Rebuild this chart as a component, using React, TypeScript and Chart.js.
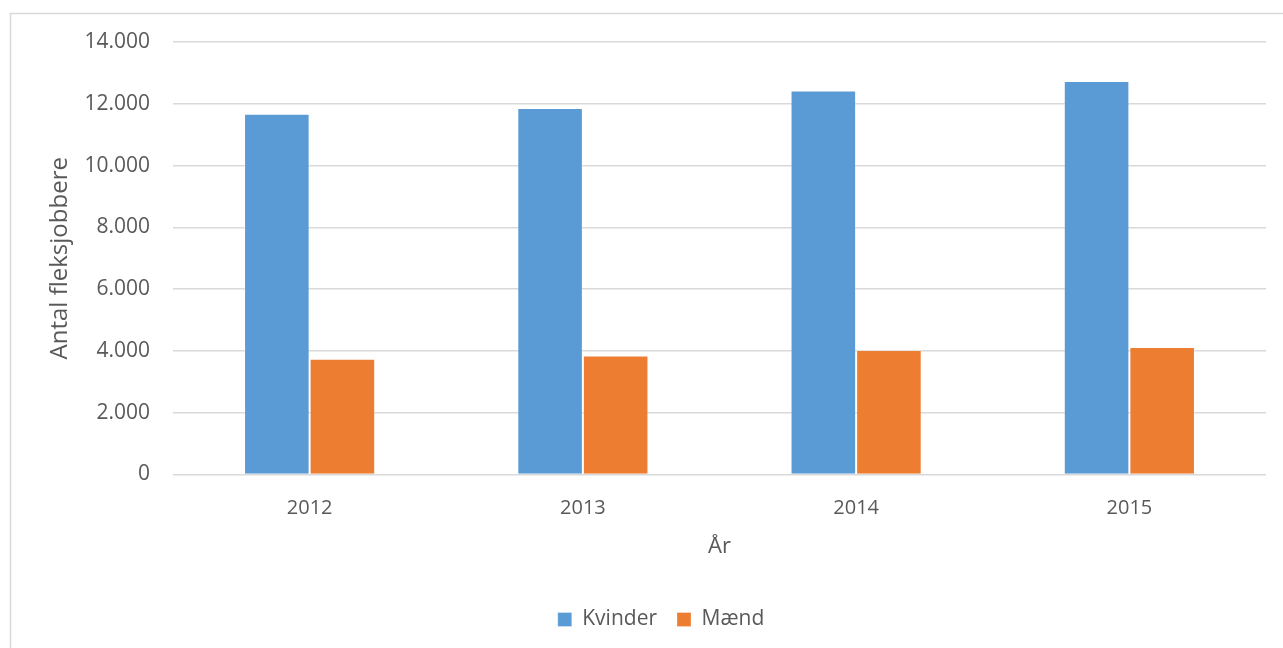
import React, { useEffect, useRef } from "react";
import { Chart, registerables } from "chart.js";

Chart.register(...registerables);

const years = ["2012", "2013", "2014", "2015"];
const kvinder = [11680, 11860, 12430, 12740];
const maend = [3750, 3850, 4030, 4130];
const seriesNames = ["Kvinder", "Mænd"];
const yTitle = "Antal fleksjobbere";
const xTitle = "År";

const FONT = "'Open Sans', sans-serif";
const TEXT = "#595959";

const fmt = (v: number) => String(Math.round(v)).replace(/\B(?=(\d{3})+(?!\d))/g, ".");

const framePlugin = {
  id: "frame",
  afterLayout(chart: any) {
    const lg = chart.legend;
    if (lg) {
      lg.left += 28;
      lg.right += 28;
    }
  },
  beforeDraw(chart: any) {
    const { ctx, width, height } = chart;
    ctx.save();
    ctx.fillStyle = "#ffffff";
    ctx.fillRect(0, 0, width, height);
    ctx.strokeStyle = "#d9d9d9";
    ctx.lineWidth = 1.5;
    ctx.strokeRect(10.5, 13.5, width + 20, height + 20);
    ctx.restore();
  },
};

export default function App() {
  const ref = useRef<HTMLCanvasElement>(null);
  useEffect(() => {
    if (!ref.current) return;
    const chart = new Chart(ref.current, {
      type: "bar",
      data: {
        labels: years,
        datasets: [
          {
            label: seriesNames[0],
            data: kvinder,
            backgroundColor: "#5B9BD5",
            borderColor: "rgba(255,255,255,0.3)",
            borderWidth: 1,
          },
          {
            label: seriesNames[1],
            data: maend,
            backgroundColor: "#ED7D31",
            borderColor: "rgba(255,255,255,0.3)",
            borderWidth: 1,
          },
        ],
      },
      options: {
        responsive: false,
        animation: false,
        layout: { padding: { top: 42, right: 17, bottom: 8, left: 0 } },
        datasets: { bar: { categoryPercentage: 0.48, barPercentage: 1 } },
        plugins: {
          legend: {
            position: "bottom",
            labels: {
              font: { family: FONT, size: 21 },
              color: TEXT,
              boxWidth: 14,
              boxHeight: 14,
              padding: 20,
            },
          },
          tooltip: { enabled: false },
        },
        scales: {
          x: {
            grid: { display: false },
            border: { display: false },
            ticks: { font: { family: FONT, size: 20 }, color: TEXT, padding: 14 },
            title: {
              display: true,
              text: xTitle,
              font: { family: FONT, size: 22 },
              color: TEXT,
              padding: { top: 0, bottom: 29 },
            },
            afterFit(axis: any) {
              axis.height = 114.5;
            },
          },
          y: {
            min: 0,
            max: 14000,
            grid: { color: "#d9d9d9", lineWidth: 1.5, drawTicks: false },
            border: { display: false },
            ticks: {
              stepSize: 2000,
              font: { family: FONT, size: 21 },
              color: TEXT,
              padding: 23,
              callback: (v: any) => fmt(Number(v)),
            },
            title: {
              display: true,
              text: yTitle,
              font: { family: FONT, size: 24 },
              color: TEXT,
              padding: { top: 46, bottom: 0 },
            },
            afterFit(axis: any) {
              axis.width = 173;
            },
          },
        },
      },
      plugins: [framePlugin],
    });
    return () => chart.destroy();
  }, []);
  return (
    <div style={{ position: "fixed", left: 0, top: 0, width: 1283, height: 648 }}>
      <canvas ref={ref} width={1283} height={648} style={{ display: "block" }} />
    </div>
  );
}
